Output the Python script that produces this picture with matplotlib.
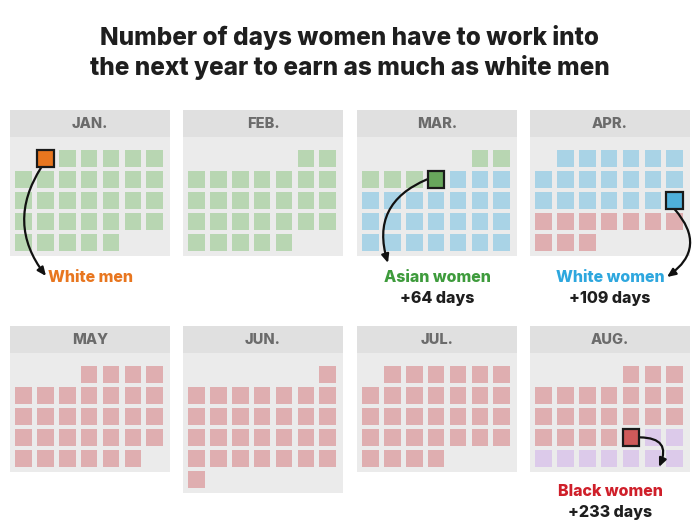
import matplotlib.pyplot as plt
from matplotlib.patches import Rectangle

# calendar data: month label, column of first day, runs of (kind, count)
months = ['JAN.', 'FEB.', 'MAR.', 'APR.', 'MAY', 'JUN.', 'JUL.', 'AUG.']
first_col = [1, 5, 5, 1, 3, 6, 1, 4]
runs = [
    [('wm', 1), ('green', 31)],
    [('green', 28)],
    [('green', 5), ('aw', 1), ('blue', 24)],
    [('blue', 19), ('ww', 1), ('pink', 10)],
    [('pink', 31)],
    [('pink', 30)],
    [('pink', 31)],
    [('pink', 21), ('bw', 1), ('purple', 9)],
]

group_keys = ['wm', 'aw', 'ww', 'bw']
group_names = ['White men', 'Asian women', 'White women', 'Black women']
extra_days = [None, 64, 109, 233]

fill = {'green': '#b8d6b2', 'blue': '#a9d3e6', 'pink': '#dfaeb0', 'purple': '#dccaea',
        'wm': '#e8761f', 'aw': '#68a65c', 'ww': '#4fb0db', 'bw': '#cf5a5a'}
text_col = {'wm': '#e8761f', 'aw': '#3e9b3c', 'ww': '#2ea7de', 'bw': '#cf1f2a'}

# layout (pixels)
panel_x = [10, 183, 357, 530]
header_y = [110, 326]
panel_w = 160
header_h = 27
step_x, step_y, sq = 21.9, 21.0, 16.7

# label placement: (x, y, ha), arrow start, arrow end, curvature
label_pos = {'wm': (48, 277, 'left'), 'aw': (437, 277, 'center'),
             'ww': (610, 277, 'center'), 'bw': (610, 492, 'center')}
arrow_start_off = {'wm': (-4, 9), 'aw': (-9, 0), 'ww': (0, 9), 'bw': (9, 0)}
arrow_end = {'wm': (46, 276), 'aw': (388, 263), 'ww': (667, 277), 'bw': (659, 467)}
arrow_rad = {'wm': 0.35, 'aw': 0.45, 'ww': -0.55, 'bw': -0.75}

plt.rcParams['font.family'] = ['Inter', 'DejaVu Sans']
fig = plt.figure(figsize=(7, 5.25), dpi=100)
ax = fig.add_axes([0, 0, 1, 1])
ax.set_xlim(0, 700)
ax.set_ylim(525, 0)
ax.axis('off')

ax.text(350, 38, 'Number of days women have to work into', ha='center', va='center',
        fontsize=17.5, fontweight='heavy', color='#1e1e1e')
ax.text(350, 67, 'the next year to earn as much as white men', ha='center', va='center',
        fontsize=17.5, fontweight='heavy', color='#1e1e1e')

hl_centers = {}
for i, m in enumerate(months):
    x0 = panel_x[i % 4]
    y0 = header_y[i // 4]
    total = sum(c for _, c in runs[i])
    nrows = (first_col[i] + total - 1) // 7 + 1
    row_top = y0 + header_h + 13
    bottom = row_top + (nrows - 1) * step_y + sq + 5
    ax.add_patch(Rectangle((x0, y0), panel_w, bottom - y0, color='#ebebeb', lw=0))
    ax.add_patch(Rectangle((x0, y0), panel_w, header_h, color='#e0e0e0', lw=0))
    ax.text(x0 + panel_w / 2, y0 + header_h / 2 + 1, m, ha='center', va='center',
            fontsize=10.5, fontweight='heavy', color='#6b6b6b')
    d = first_col[i]
    for kind, count in runs[i]:
        for _ in range(count):
            c, r = d % 7, d // 7
            sx = x0 + 5 + c * step_x
            sy = row_top + r * step_y
            if kind in group_keys:
                ax.add_patch(Rectangle((sx, sy), sq, sq, facecolor=fill[kind],
                                       edgecolor='#1a1a1a', lw=1.6, zorder=4))
                hl_centers[kind] = (sx + sq / 2, sy + sq / 2)
            else:
                ax.add_patch(Rectangle((sx, sy), sq, sq, color=fill[kind], lw=0))
            d += 1

for k, name, extra in zip(group_keys, group_names, extra_days):
    lx, ly, ha = label_pos[k]
    ax.text(lx, ly, name, ha=ha, va='center', fontsize=11.5, fontweight='heavy',
            color=text_col[k])
    if extra is not None:
        ax.text(lx, ly + 21, '+%d days' % extra, ha=ha, va='center', fontsize=11.5,
                fontweight='heavy', color='#1e1e1e')
    cx, cy = hl_centers[k]
    ox, oy = arrow_start_off[k]
    ax.annotate('', xy=arrow_end[k], xytext=(cx + ox, cy + oy),
                arrowprops=dict(arrowstyle='-|>,head_length=0.5,head_width=0.22',
                                color='#111111', lw=1.6, shrinkA=0, shrinkB=0,
                                connectionstyle='arc3,rad=%s' % arrow_rad[k]),
                zorder=3)

fig.savefig('out.png', dpi=100, facecolor='white')
